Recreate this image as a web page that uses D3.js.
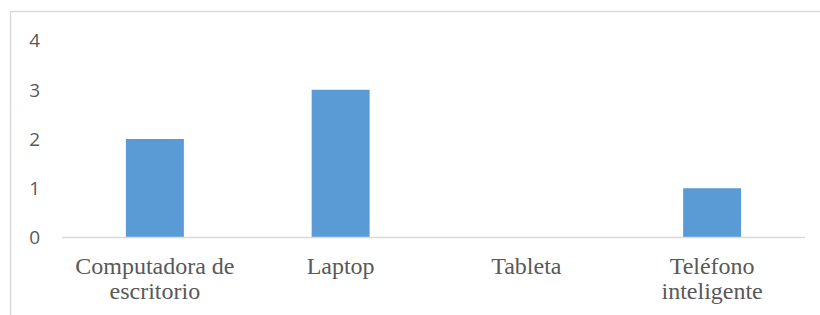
<!DOCTYPE html>
<html>
<head>
<meta charset="utf-8">
<script src="https://cdn.jsdelivr.net/npm/d3@7"></script>
</head>
<body style="margin:0">
<script>
const categories = ["Computadora de escritorio", "Laptop", "Tableta", "Teléfono inteligente"];
const labelLines = [["Computadora de", "escritorio"], ["Laptop"], ["Tableta"], ["Teléfono", "inteligente"]];
const values = [2, 3, 0, 1];
const yTicks = [0, 1, 2, 3, 4];

const W = 820, H = 315;
const margin = { top: 40.5, right: 15, bottom: 77.5, left: 62 };

const svg = d3.select("body").append("svg")
    .attr("width", W)
    .attr("height", H);

// chart frame (runs off the right and bottom edge)
svg.append("rect")
    .attr("x", 10.5).attr("y", 11.5)
    .attr("width", W + 20).attr("height", H + 20)
    .attr("fill", "none")
    .attr("stroke", "#d9d9d9")
    .attr("stroke-width", 1.5);

const x = d3.scaleBand()
    .domain(categories)
    .range([margin.left, W - margin.right])
    .paddingInner(0.688)
    .paddingOuter(0.344);

const y = d3.scaleLinear()
    .domain([0, 4])
    .range([H - margin.bottom, margin.top]);

// y labels
svg.selectAll(null)
    .data(yTicks)
    .enter().append("text")
    .style("font-family", "\"Open Sans\"")
    .style("font-size", "19px")
    .attr("fill", "#595959")
    .attr("x", 40)
    .attr("y", d => y(d))
    .attr("dy", "0.36em")
    .attr("text-anchor", "end")
    .text(d => d);

// bars
svg.selectAll(null)
    .data(values)
    .enter().append("rect")
    .attr("x", (d, i) => x(categories[i]))
    .attr("y", d => y(d))
    .attr("width", x.bandwidth())
    .attr("height", d => y(0) - y(d))
    .attr("fill", "#5b9bd5");

// baseline
svg.append("line")
    .attr("x1", margin.left).attr("x2", W - margin.right)
    .attr("y1", y(0)).attr("y2", y(0))
    .attr("stroke", "#d9d9d9")
    .attr("stroke-width", 1.5);

// x labels, one text per line
const lines = [];
categories.forEach((c, i) => labelLines[i].forEach((t, j) => lines.push({ c: c, t: t, j: j })));
svg.selectAll(null)
    .data(lines)
    .enter().append("text")
    .style("font-family", "\"Liberation Serif\"")
    .style("font-size", "24px")
    .attr("fill", "#595959")
    .attr("x", d => x(d.c) + x.bandwidth() / 2 - d.t.length * 0)
    .attr("y", d => y(0) + 36.5 + d.j * 25)
    .attr("text-anchor", "middle")
    .text(d => d.t);
</script>
</body>
</html>
